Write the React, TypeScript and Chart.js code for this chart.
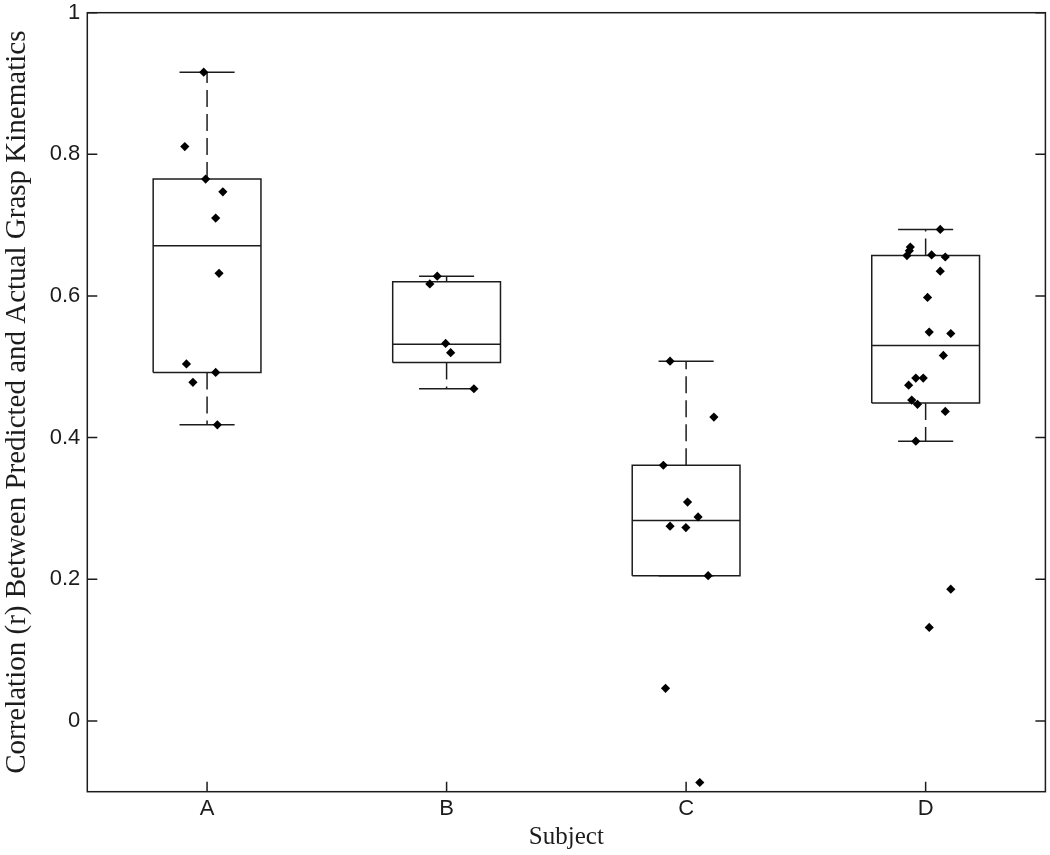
import React, { useEffect, useRef } from 'react';
import { Chart, registerables } from 'chart.js';

Chart.register(...registerables);

const subjects = ['A', 'B', 'C', 'D'];
const yTickValues = [0, 0.2, 0.4, 0.6, 0.8, 1];

// individual correlations (x = jittered subject position, y = r)
const subjectAX = [0.986, 0.907, 0.994, 1.066, 1.036, 1.05, 0.914, 1.036, 0.941, 1.043];
const subjectAY = [0.916, 0.811, 0.765, 0.747, 0.71, 0.632, 0.504, 0.492, 0.478, 0.418];
const subjectBX = [1.961, 1.93, 1.996, 2.017, 2.114];
const subjectBY = [0.628, 0.617, 0.533, 0.52, 0.469];
const subjectCX = [2.933, 3.116, 2.905, 3.006, 3.05, 2.933, 2.999, 3.092, 2.914, 3.057];
const subjectCY = [0.508, 0.429, 0.361, 0.309, 0.288, 0.275, 0.273, 0.205, 0.046, -0.087];
const subjectDX = [4.061, 3.936, 3.932, 3.922, 4.025, 4.082, 4.061, 4.008, 4.015, 4.105, 4.074, 3.959, 3.99, 3.929, 3.942, 3.966, 4.082, 3.959, 4.105, 4.015];
const subjectDY = [0.694, 0.669, 0.664, 0.657, 0.658, 0.655, 0.635, 0.598, 0.549, 0.547, 0.516, 0.484, 0.484, 0.474, 0.453, 0.447, 0.437, 0.395, 0.186, 0.132];

// box statistics per subject
const q1 = [0.492, 0.506, 0.205, 0.449];
const medians = [0.671, 0.532, 0.283, 0.53];
const q3 = [0.765, 0.62, 0.361, 0.657];
const whiskerLow = [0.418, 0.469, 0.205, 0.395];
const whiskerHigh = [0.916, 0.628, 0.508, 0.694];

const BOX_HALF = 0.225;
const CAP_HALF = 0.115;
const INK = '#1c1c1c';

const framePlugin = {
  id: 'matlabFrame',
  beforeDatasetsDraw(chart: any) {
    const { ctx, chartArea } = chart;
    const { left, right, top, bottom } = chartArea;
    const ys = chart.scales.y;
    const xs = chart.scales.x;
    ctx.save();
    ctx.strokeStyle = INK;
    ctx.lineWidth = 1.5;
    ctx.strokeRect(left, top, right - left, bottom - top);
    const tl = 10;
    ctx.beginPath();
    yTickValues.forEach((v) => {
      const py = ys.getPixelForValue(v);
      ctx.moveTo(left, py);
      ctx.lineTo(left + tl, py);
      ctx.moveTo(right, py);
      ctx.lineTo(right - tl, py);
    });
    subjects.forEach((_, i) => {
      const px = xs.getPixelForValue(i + 1);
      ctx.moveTo(px, bottom);
      ctx.lineTo(px, bottom - tl);
    });
    ctx.stroke();
    ctx.restore();
  },
};

function buildDatasets() {
  const pts = [
    ...subjectAX.map((x, i) => ({ x, y: subjectAY[i] })),
    ...subjectBX.map((x, i) => ({ x, y: subjectBY[i] })),
    ...subjectCX.map((x, i) => ({ x, y: subjectCY[i] })),
    ...subjectDX.map((x, i) => ({ x, y: subjectDY[i] })),
  ];
  const ds: any[] = [
    {
      type: 'scatter',
      data: pts,
      pointStyle: 'rectRot',
      pointRadius: 4.6,
      pointBackgroundColor: '#000',
      pointBorderWidth: 0,
      order: 0,
    },
  ];
  const lineBase = {
    type: 'line',
    showLine: true,
    pointRadius: 0,
    pointHoverRadius: 0,
    fill: false,
    tension: 0,
    borderColor: INK,
    borderWidth: 1.5,
    order: 1,
  };
  subjects.forEach((_, i) => {
    const p = i + 1;
    ds.push({
      ...lineBase,
      data: [
        { x: p - BOX_HALF, y: q1[i] },
        { x: p + BOX_HALF, y: q1[i] },
        { x: p + BOX_HALF, y: q3[i] },
        { x: p - BOX_HALF, y: q3[i] },
        { x: p - BOX_HALF, y: q1[i] },
      ],
    });
    ds.push({ ...lineBase, data: [{ x: p - BOX_HALF, y: medians[i] }, { x: p + BOX_HALF, y: medians[i] }] });
    ds.push({ ...lineBase, borderDash: [17, 7], data: [{ x: p, y: q3[i] }, { x: p, y: whiskerHigh[i] }] });
    ds.push({ ...lineBase, borderDash: [17, 7], data: [{ x: p, y: q1[i] }, { x: p, y: whiskerLow[i] }] });
    ds.push({ ...lineBase, data: [{ x: p - CAP_HALF, y: whiskerHigh[i] }, { x: p + CAP_HALF, y: whiskerHigh[i] }] });
    ds.push({ ...lineBase, data: [{ x: p - CAP_HALF, y: whiskerLow[i] }, { x: p + CAP_HALF, y: whiskerLow[i] }] });
  });
  return ds;
}

export default function App() {
  const ref = useRef<HTMLCanvasElement | null>(null);
  useEffect(() => {
    if (!ref.current) return;
    const chart = new Chart(ref.current, {
      type: 'scatter',
      data: { datasets: buildDatasets() },
      plugins: [framePlugin],
      options: {
        responsive: false,
        animation: false,
        layout: { padding: { left: 0, top: 12.7, right: -2.5, bottom: 0 } },
        plugins: { legend: { display: false }, tooltip: { enabled: false } },
        scales: {
          x: {
            type: 'linear',
            min: 0.5,
            max: 4.5,
            grid: { display: false, drawTicks: false },
            border: { display: false },
            afterBuildTicks: (scale: any) => {
              scale.ticks = subjects.map((_, i) => ({ value: i + 1 }));
            },
            afterFit: (scale: any) => {
              scale.height = 855 - 791.7;
              scale.paddingLeft = 0;
              scale.paddingRight = 0;
            },
            ticks: {
              padding: 4,
              color: '#1c1c1c',
              font: { family: '"Liberation Sans", Arial, sans-serif', size: 22 },
              callback: (v: any) => subjects[Math.round(v) - 1] ?? '',
            },
            title: {
              display: true,
              text: 'Subject',
              color: '#1c1c1c',
              font: { family: '"Liberation Serif", "Times New Roman", serif', size: 25 },
              padding: { top: 0, bottom: 3 },
            },
          },
          y: {
            type: 'linear',
            min: -0.1,
            max: 1,
            grid: { display: false, drawTicks: false },
            border: { display: false },
            afterBuildTicks: (scale: any) => {
              scale.ticks = yTickValues.map((v) => ({ value: v }));
            },
            afterFit: (scale: any) => {
              scale.width = 87.3;
              scale.paddingTop = 0;
              scale.paddingBottom = 0;
            },
            ticks: {
              padding: 7,
              color: '#1c1c1c',
              font: { family: '"Liberation Sans", Arial, sans-serif', size: 22 },
              callback: (v: any) => String(Math.round(Number(v) * 10) / 10),
            },
            title: {
              display: true,
              text: 'Correlation (r) Between Predicted and Actual Grasp Kinematics',
              color: '#1c1c1c',
              font: { family: '"Liberation Serif", "Times New Roman", serif', size: 29 },
              padding: { top: 0, bottom: 0 },
            },
          },
        },
      } as any,
    } as any);
    return () => chart.destroy();
  }, []);
  return (
    <div style={{ position: 'absolute', left: 0, top: 0, width: 1050, height: 855, background: '#fff' }}>
      <canvas ref={ref} width={1050} height={855} style={{ display: 'block', width: 1050, height: 855 }} />
    </div>
  );
}
